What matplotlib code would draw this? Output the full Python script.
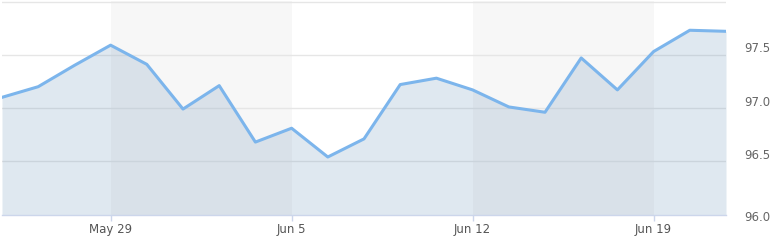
import matplotlib.pyplot as plt
import matplotlib.transforms as mtransforms
import numpy as np
import pandas as pd

# ===== DATA =====
DATES = [
    "2017-05-24", "2017-05-25", "2017-05-26",
    "2017-05-29", "2017-05-30", "2017-05-31", "2017-06-01", "2017-06-02",
    "2017-06-05", "2017-06-06", "2017-06-07", "2017-06-08", "2017-06-09",
    "2017-06-12", "2017-06-13", "2017-06-14", "2017-06-15", "2017-06-16",
    "2017-06-19", "2017-06-20", "2017-06-21",
]
VALUES = [
    97.10, 97.20, 97.40,
    97.59, 97.41, 96.99, 97.21, 96.68,
    96.81, 96.54, 96.71, 97.22, 97.28,
    97.17, 97.01, 96.96, 97.47, 97.17,
    97.53, 97.73, 97.72,
]
Y_TICKS = [96.0, 96.5, 97.0, 97.5, 98.0]
SHADED_WEEKS = [("2017-05-29", "2017-06-05"), ("2017-06-12", "2017-06-19")]

# ===== STYLE =====
LINE_COLOR = "#7cb5ec"
FILL_COLOR = "#628cb4"
BAND_COLOR = "#f7f7f7"
GRID_COLOR = "#e6e6e6"
AXIS_COLOR = "#ccd6eb"
LABEL_COLOR = "#666666"

dates = pd.to_datetime(DATES)
x = np.arange(len(dates))
index_of = {d: i for i, d in enumerate(dates)}

fig = plt.figure(figsize=(7.77, 2.44), dpi=100)
ax = fig.add_axes([2 / 777, (244 - 214.5) / 244, 724 / 777, 213 / 244])

for start, end in SHADED_WEEKS:
    ax.axvspan(index_of[pd.Timestamp(start)], index_of[pd.Timestamp(end)], color=BAND_COLOR, lw=0, zorder=0)

for v in Y_TICKS[1:]:
    ax.axhline(v, color=GRID_COLOR, lw=1.0, zorder=1)

ax.fill_between(x, VALUES, Y_TICKS[0], color=FILL_COLOR, alpha=0.2, lw=0, zorder=2)
ax.plot(x, VALUES, color=LINE_COLOR, lw=2.2, solid_joinstyle="round", zorder=3)

ax.set_xlim(x[0], x[-1])
ax.set_ylim(Y_TICKS[0], Y_TICKS[-1])

for side in ("top", "left", "right"):
    ax.spines[side].set_visible(False)
ax.spines["bottom"].set_color(AXIS_COLOR)
ax.spines["bottom"].set_linewidth(1.0)

mondays = [i for i, d in enumerate(dates) if d.weekday() == 0]
ax.set_xticks(mondays)
ax.set_xticklabels([dates[i].strftime("%b %-d") for i in mondays])
ax.tick_params(axis="x", length=4, width=1, color=AXIS_COLOR, labelcolor="#555555", labelsize=8.5, pad=2)

ax.yaxis.tick_right()
ax.set_yticks(Y_TICKS[:-1])
ax.set_yticklabels([f"{v:.1f}" for v in Y_TICKS[:-1]])
ax.tick_params(axis="y", length=0, labelcolor=LABEL_COLOR, labelsize=8.5, pad=13)
for i, lab in enumerate(ax.get_yticklabels()):
    dy = -1.4 if i == 0 else 7.3
    lab.set_transform(lab.get_transform() + mtransforms.Affine2D().translate(0, dy))

fig.savefig("out.png", dpi=100, facecolor="white")
